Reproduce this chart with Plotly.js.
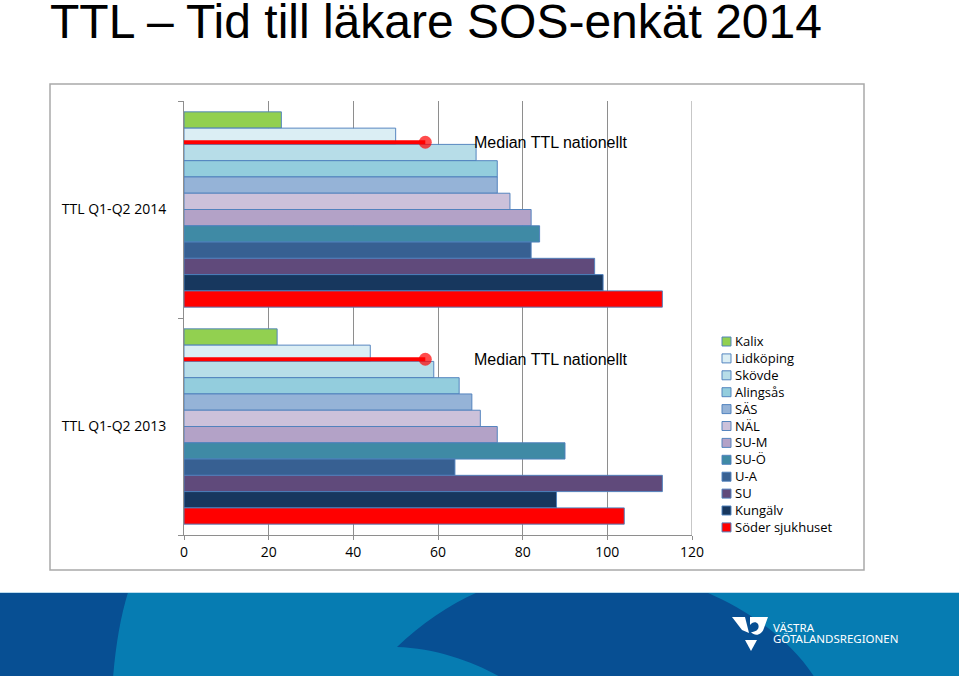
<!DOCTYPE html>
<html>
<head>
<meta charset="utf-8">
<script src="https://cdn.plot.ly/plotly-3.0.1.min.js"></script>
<style>
  html, body { margin: 0; padding: 0; background: #ffffff; }
  #chart { width: 959px; height: 676px; }
</style>
</head>
<body>
<div id="chart"></div>
<script>
// ---------- data ----------
const categories = ['TTL Q1-Q2 2014', 'TTL Q1-Q2 2013'];
const units = ['Kalix', 'Lidköping', 'Skövde', 'Alingsås', 'SÄS', 'NÄL', 'SU-M', 'SU-Ö', 'U-A', 'SU', 'Kungälv', 'Söder sjukhuset'];
const ttl2014 = [23, 50, 69, 74, 74, 77, 82, 84, 82, 97, 99, 113];
const ttl2013 = [22, 44, 59, 65, 68, 70, 74, 90, 64, 113, 88, 104];
const medianNational = [57, 57];
const medianLabel = 'Median TTL nationellt';
const xTicks = [0, 20, 40, 60, 80, 100, 120];
const titleText = 'TTL – Tid till läkare SOS-enkät 2014';
const logoLines = ['VÄSTRA', 'GÖTALANDSREGIONEN'];

// ---------- styles ----------
const colors = ['#92d050', '#dbeef4', '#b7dde8', '#93cddd', '#95b3d7', '#ccc1da',
                '#b3a2c7', '#3f8aa5', '#376092', '#604a7b', '#17375e', '#ff0000'];
const barLine = 'rgba(79,129,189,0.95)';
const gridCol = '#8e8e8e';
const bargap = 0.1;
const catPos = categories.map((c, i) => i);
const values = [ttl2014, ttl2013];

// pixel -> paper helpers (plot area in pixels)
const W = 959, H = 676, PL = 184, PR = 692, PT = 101, PB = 535;
const px = x => (x - PL) / (PR - PL);
const py = y => (PB - y) / (PB - PT);
const P = (x, y) => px(x) + ',' + py(y);

// ---------- traces ----------
const traces = units.map((u, i) => ({
  type: 'bar',
  orientation: 'h',
  name: u,
  y: catPos,
  x: values.map(v => v[i]),
  marker: { color: colors[i], line: { color: barLine, width: 1 } },
  showlegend: false,
  hoverinfo: 'x+name'
}));

// median line sits at the Lidköping / Skövde boundary inside each group
const barW = (1 - bargap) / units.length;
const medianOffset = -(1 - bargap) / 2 + 2 * barW - 0.01;
catPos.forEach((c, k) => {
  traces.push({
    type: 'scatter',
    mode: 'lines+markers',
    x: [0, medianNational[k]],
    y: [c + medianOffset, c + medianOffset],
    line: { color: '#ff0000', width: 4 },
    marker: { color: '#ff0000', size: [0, 13], line: { width: 0 } },
    showlegend: false,
    cliponaxis: false,
    hoverinfo: 'x'
  });
});

// ---------- annotations ----------
const annotations = [];
catPos.forEach((c, k) => {
  annotations.push({
    xref: 'x', yref: 'y', x: 68.3, y: c + medianOffset,
    text: medianLabel, showarrow: false, xanchor: 'left', yanchor: 'middle',
    borderpad: 0,
    font: { family: 'Liberation Sans, Arial, sans-serif', size: 16, color: '#000000' }
  });
});

// custom legend (squares + one multi-line text block)
const shapes = [];
const legTop = 341.5, legStep = 16.9;
units.forEach((u, i) => {
  const cy = legTop + i * legStep;
  shapes.push({
    type: 'rect', xref: 'paper', yref: 'paper',
    x0: px(722), x1: px(731), y0: py(cy - 4.5), y1: py(cy + 4.5),
    fillcolor: colors[i], line: { color: barLine, width: 1 }
  });
});
annotations.push({
  xref: 'paper', yref: 'paper', x: px(734), y: py(legTop + (units.length - 1) * legStep / 2),
  text: units.join('<br>'), showarrow: false, xanchor: 'left', yanchor: 'middle',
  align: 'left', borderpad: 0,
  font: { family: 'Open Sans, sans-serif', size: 13, color: '#000000' }
});

// gridline at the axis maximum
shapes.push({
  type: 'line', xref: 'x', yref: 'paper',
  x0: xTicks[xTicks.length - 1], x1: xTicks[xTicks.length - 1], y0: 0, y1: 1,
  line: { color: gridCol, width: 1 }, layer: 'below'
});

// chart frame
shapes.push({
  type: 'rect', xref: 'paper', yref: 'paper', layer: 'below',
  x0: px(50), x1: px(864), y0: py(570), y1: py(84),
  line: { color: '#a9a9a9', width: 1.5 }, fillcolor: 'rgba(0,0,0,0)'
});

// footer band
const light = '#067cb2', dark = '#074f93';
shapes.push({
  type: 'rect', xref: 'paper', yref: 'paper',
  x0: px(0), x1: px(W), y0: py(592), y1: py(H + 2),
  fillcolor: light, line: { width: 0 }
});
shapes.push({
  type: 'path', xref: 'paper', yref: 'paper',
  path: 'M' + P(0, 592.5) + ' L' + P(128, 592.5) + ' Q' + P(117, 628) + ' ' + P(113, 678) + ' L' + P(0, 678) + ' Z',
  fillcolor: dark, line: { width: 0 }
});
shapes.push({
  type: 'path', xref: 'paper', yref: 'paper',
  path: 'M' + P(477, 592.5) + ' L' + P(707, 592.5) +
        ' C' + P(752, 612) + ' ' + P(792, 642) + ' ' + P(815, 678) +
        ' L' + P(502, 678) +
        ' C' + P(475, 662) + ' ' + P(435, 648) + ' ' + P(397, 647) +
        ' C' + P(420, 625) + ' ' + P(450, 604) + ' ' + P(477, 592.5) + ' Z',
  fillcolor: dark, line: { width: 0 }
});
shapes.push({
  type: 'line', xref: 'paper', yref: 'paper',
  x0: px(0), x1: px(W), y0: py(592.5), y1: py(592.5),
  line: { color: '#bcdcee', width: 1 }
});
// logo symbol
shapes.push({
  type: 'path', xref: 'paper', yref: 'paper',
  path: 'M' + P(732, 617) + ' L' + P(745, 617) + ' L' + P(749, 633) + ' L' + P(742, 630) + ' Z',
  fillcolor: '#ffffff', line: { width: 0 }
});
shapes.push({
  type: 'path', xref: 'paper', yref: 'paper',
  path: 'M' + P(750, 617) + ' L' + P(768, 617) + ' L' + P(764, 628) +
        ' C' + P(762, 635) + ' ' + P(755, 637) + ' ' + P(751, 632) +
        ' C' + P(757, 632) + ' ' + P(760, 628) + ' ' + P(758, 624) +
        ' C' + P(756, 621) + ' ' + P(752, 622) + ' ' + P(750, 625) + ' Z',
  fillcolor: '#ffffff', line: { width: 0 }
});
shapes.push({
  type: 'path', xref: 'paper', yref: 'paper',
  path: 'M' + P(745, 640) + ' L' + P(757, 640) + ' L' + P(751, 651) + ' Z',
  fillcolor: '#ffffff', line: { width: 0 }
});
logoLines.forEach((t, k) => {
  annotations.push({
    xref: 'paper', yref: 'paper', x: px(772), y: py(627 + k * 11.5),
    text: t, showarrow: false, xanchor: 'left', yanchor: 'middle', borderpad: 0,
    font: { family: 'Noto Sans, sans-serif', size: 11.5, color: '#ffffff' }
  });
});

// ---------- layout ----------
const layout = {
  width: W, height: H,
  margin: { l: PL, r: W - PR, t: PT, b: H - PB, pad: 0 },
  paper_bgcolor: '#ffffff',
  plot_bgcolor: 'rgba(0,0,0,0)',
  barmode: 'group',
  bargap: bargap,
  bargroupgap: 0,
  showlegend: false,
  title: {
    text: titleText,
    xref: 'container', yref: 'container',
    x: 50 / W, xanchor: 'left',
    y: 1 - 21.5 / H, yanchor: 'middle',
    font: { family: 'Liberation Sans, Arial, sans-serif', size: 48, color: '#000000' }
  },
  xaxis: {
    range: [0, 120],
    tickvals: xTicks,
    ticktext: xTicks.map(String),
    showgrid: true, gridcolor: gridCol, gridwidth: 1,
    zeroline: false,
    showline: true, linecolor: gridCol, linewidth: 1,
    ticks: 'outside', ticklen: 4, tickcolor: gridCol,
    tickfont: { family: 'Open Sans, sans-serif', size: 14, color: '#000000' },
    fixedrange: true
  },
  yaxis: {
    type: 'linear',
    range: [categories.length - 0.5, -0.5],
    tickvals: catPos,
    ticktext: categories,
    ticks: '',
    ticklabelstandoff: 14,
    minor: { tick0: -0.5, dtick: 1, ticks: 'outside', ticklen: 5, tickcolor: gridCol, showgrid: false },
    showgrid: false, zeroline: false,
    showline: true, linecolor: gridCol, linewidth: 1,
    tickfont: { family: 'Open Sans, sans-serif', size: 14, color: '#000000' },
    fixedrange: true
  },
  shapes: shapes,
  annotations: annotations
};

Plotly.newPlot('chart', traces, layout, { displayModeBar: false, staticPlot: true });
</script>
</body>
</html>
